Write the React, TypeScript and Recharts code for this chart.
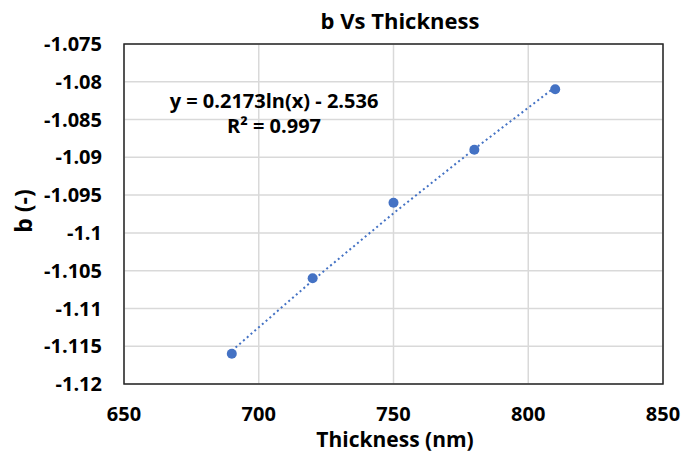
import React from 'react';
import { ScatterChart, Scatter, XAxis, YAxis, CartesianGrid, ReferenceArea } from 'recharts';

const thickness = [690, 720, 750, 780, 810];
const bValues = [-1.116, -1.106, -1.096, -1.089, -1.081];
const trendX = [690, 720, 750, 780, 810];
const trendY = [-1.1156, -1.1063, -1.0974, -1.0889, -1.0807];
const xTicks = [650, 700, 750, 800, 850];
const yTicks = [-1.12, -1.115, -1.11, -1.105, -1.1, -1.095, -1.09, -1.085, -1.08, -1.075];

const points = thickness.map((x, i) => ({ x, y: bValues[i] }));
const trend = trendX.map((x, i) => ({ x, y: trendY[i] }));

const FONT = '"Open Sans", "Noto Sans", sans-serif';
const BLUE = '#4472C4';

const Dot = (props: any) => <circle cx={props.cx} cy={props.cy} r={5} fill={BLUE} />;
const NoDot = () => null;

export default function App() {
  return (
    <div style={{ position: 'absolute', left: 0, top: 0, width: 685, height: 457, background: '#fff', fontFamily: FONT }}>
      <ScatterChart width={685} height={457} margin={{ top: 44, right: 22, bottom: 43, left: 0 }}>
        <CartesianGrid stroke="#d9d9d9" strokeWidth={1.5} />
        <XAxis type="number" dataKey="x" domain={[650, 850]} ticks={xTicks} height={30} axisLine={false} tickLine={false} tickSize={0} tickMargin={23}
          tick={{ fill: '#000', fontSize: 20, fontWeight: 700, fontFamily: FONT }} />
        <YAxis type="number" dataKey="y" domain={[-1.12, -1.075]} ticks={yTicks} width={124} axisLine={false} tickLine={false} tickSize={0} tickMargin={22}
          tick={{ fill: '#000', fontSize: 20, fontWeight: 700, fontFamily: FONT }} />
        <ReferenceArea x1={650} x2={850} y1={-1.12} y2={-1.075} fill="none" stroke="#262626" strokeWidth={1.5} />
        <Scatter data={trend} line={{ stroke: BLUE, strokeWidth: 2, strokeDasharray: '2 3' }} lineType="joint" shape={NoDot} isAnimationActive={false} />
        <Scatter data={points} shape={Dot} isAnimationActive={false} />
      </ScatterChart>
      <div style={{ position: 'absolute', left: 400, top: 8.5, transform: 'translateX(-50%)', whiteSpace: 'nowrap', fontSize: 22, lineHeight: '22px', fontWeight: 700, color: '#000' }}>b Vs Thickness</div>
      <div style={{ position: 'absolute', left: 395, top: 429, transform: 'translateX(-50%)', whiteSpace: 'nowrap', fontSize: 21, lineHeight: '21px', fontWeight: 700, color: '#000' }}>Thickness (nm)</div>
      <div style={{ position: 'absolute', left: 23, top: 211, transform: 'translate(-50%, -50%) rotate(-90deg)', fontSize: 23, lineHeight: '23px', fontWeight: 700, whiteSpace: 'nowrap', color: '#000' }}>b (-)</div>
      <div style={{ position: 'absolute', left: 274, top: 88, transform: 'translateX(-50%)', textAlign: 'center', fontSize: 20, fontWeight: 700, lineHeight: '25px', whiteSpace: 'nowrap', color: '#000' }}>
        <div>y = 0.2173ln(x) - 2.536</div>
        <div>R² = 0.997</div>
      </div>
    </div>
  );
}
